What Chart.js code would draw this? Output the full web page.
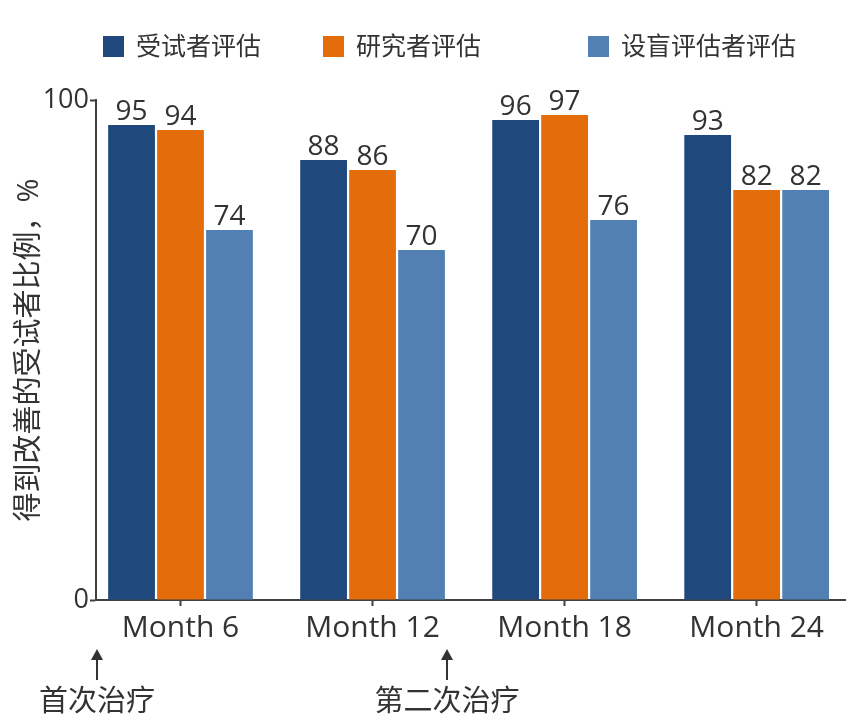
<!DOCTYPE html>
<html><head><meta charset="utf-8">
<script src="https://cdn.jsdelivr.net/npm/chart.js@4"></script>
<style>html,body{margin:0;padding:0;background:#fff}#wrap{width:864px;height:728px}</style>
</head><body><div id="wrap"><canvas id="c" width="864" height="728"></canvas></div>
<script>
const categories = ['Month 6', 'Month 12', 'Month 18', 'Month 24'];
const seriesNames = ['受试者评估', '研究者评估', '设盲评估者评估'];
const patientScores = [95, 88, 96, 93];
const investigatorScores = [94, 86, 97, 82];
const blindedScores = [74, 70, 76, 82];
const yTickValues = [0, 100];
const yTitle = '得到改善的受试者比例，%';
const treatmentMarks = [{ at: -0.44, text: '首次治疗' }, { at: 1.38, text: '第二次治疗' }];

const FAMILY = "'Open Sans', 'Noto Sans CJK SC', sans-serif";
const TEXT = '#333333';
const AXIS = '#404040';
const colors = ['#1f487c', '#e46c0a', '#5380b2'];
const seriesValues = [patientScores, investigatorScores, blindedScores];

const datasets = seriesNames.map((name, s) => ({
  label: name,
  data: seriesValues[s].map((v, i) => ({ x: i, y: v })),
  backgroundColor: colors[s],
  borderWidth: 0,
  categoryPercentage: 0.765,
  barPercentage: 0.955
}));

const valueLabels = {
  id: 'valueLabels',
  afterDatasetsDraw(chart) {
    const ctx = chart.ctx;
    ctx.save();
    ctx.font = '28px ' + FAMILY;
    ctx.fillStyle = TEXT;
    ctx.textAlign = 'center';
    ctx.textBaseline = 'alphabetic';
    chart.data.datasets.forEach((ds, di) => {
      chart.getDatasetMeta(di).data.forEach((bar, i) => {
        ctx.fillText(String(ds.data[i].y), bar.x, bar.y - 5);
      });
    });
    ctx.restore();
  }
};

const customLegend = {
  id: 'customLegend',
  afterDraw(chart, args, opts) {
    const ctx = chart.ctx;
    ctx.save();
    ctx.font = '25px ' + FAMILY;
    ctx.textBaseline = 'middle';
    ctx.textAlign = 'left';
    chart.data.datasets.forEach((ds, i) => {
      const x = opts.xs[i];
      ctx.fillStyle = ds.backgroundColor;
      ctx.fillRect(x, opts.y, opts.box, opts.box);
      ctx.fillStyle = TEXT;
      ctx.fillText(ds.label, x + opts.box + 12, opts.y + opts.box / 2 + 1);
    });
    ctx.restore();
  }
};

const treatmentArrows = {
  id: 'treatmentArrows',
  afterDraw(chart) {
    const ctx = chart.ctx;
    const xs = chart.scales.x;
    const base = chart.chartArea.bottom;
    ctx.save();
    ctx.strokeStyle = TEXT;
    ctx.fillStyle = TEXT;
    ctx.lineWidth = 2;
    ctx.font = '29px ' + FAMILY;
    ctx.textAlign = 'center';
    ctx.textBaseline = 'middle';
    treatmentMarks.forEach(m => {
      const px = Math.round(xs.getPixelForValue(m.at)) + 1;
      const tip = base + 49, tail = base + 80;
      ctx.beginPath();
      ctx.moveTo(px, tip + 8);
      ctx.lineTo(px, tail);
      ctx.stroke();
      ctx.beginPath();
      ctx.moveTo(px, tip);
      ctx.lineTo(px - 6, tip + 11);
      ctx.lineTo(px + 6, tip + 11);
      ctx.closePath();
      ctx.fill();
      ctx.fillText(m.text, px, base + 103);
    });
    ctx.restore();
  }
};

new Chart(document.getElementById('c'), {
  type: 'bar',
  data: { datasets },
  plugins: [valueLabels, customLegend, treatmentArrows],
  options: {
    responsive: false,
    animation: false,
    devicePixelRatio: 1,
    layout: { padding: { top: 100, right: 19, bottom: 0, left: 0 } },
    plugins: {
      legend: { display: false },
      tooltip: { enabled: false },
      customLegend: { xs: [103, 323, 588], y: 36, box: 21 }
    },
    scales: {
      x: {
        type: 'linear',
        min: -0.44,
        max: 3.46,
        offset: false,
        afterBuildTicks: s => { s.ticks = categories.map((_, i) => ({ value: i })); },
        afterFit: s => { s.height = 128; },
        ticks: {
          callback: v => categories[v],
          font: { size: 30, family: FAMILY },
          color: TEXT,
          padding: 4,
          maxRotation: 0,
          autoSkip: false
        },
        grid: { offset: false, drawOnChartArea: false, tickLength: 6, tickColor: AXIS, tickWidth: 2 },
        border: { display: true, color: AXIS, width: 2 }
      },
      y: {
        min: 0,
        max: 100,
        afterBuildTicks: s => { s.ticks = yTickValues.map(v => ({ value: v })); },
        afterFit: s => { s.width = 96; },
        ticks: {
          font: { size: 27, family: FAMILY },
          color: TEXT,
          padding: 1
        },
        grid: { drawOnChartArea: false, tickLength: 6, tickColor: AXIS, tickWidth: 2 },
        border: { display: true, color: AXIS, width: 2 },
        title: {
          display: true,
          text: yTitle,
          font: { size: 29, family: FAMILY },
          color: TEXT,
          padding: { top: 12, bottom: 0 }
        }
      }
    }
  }
});
</script>
</body></html>
